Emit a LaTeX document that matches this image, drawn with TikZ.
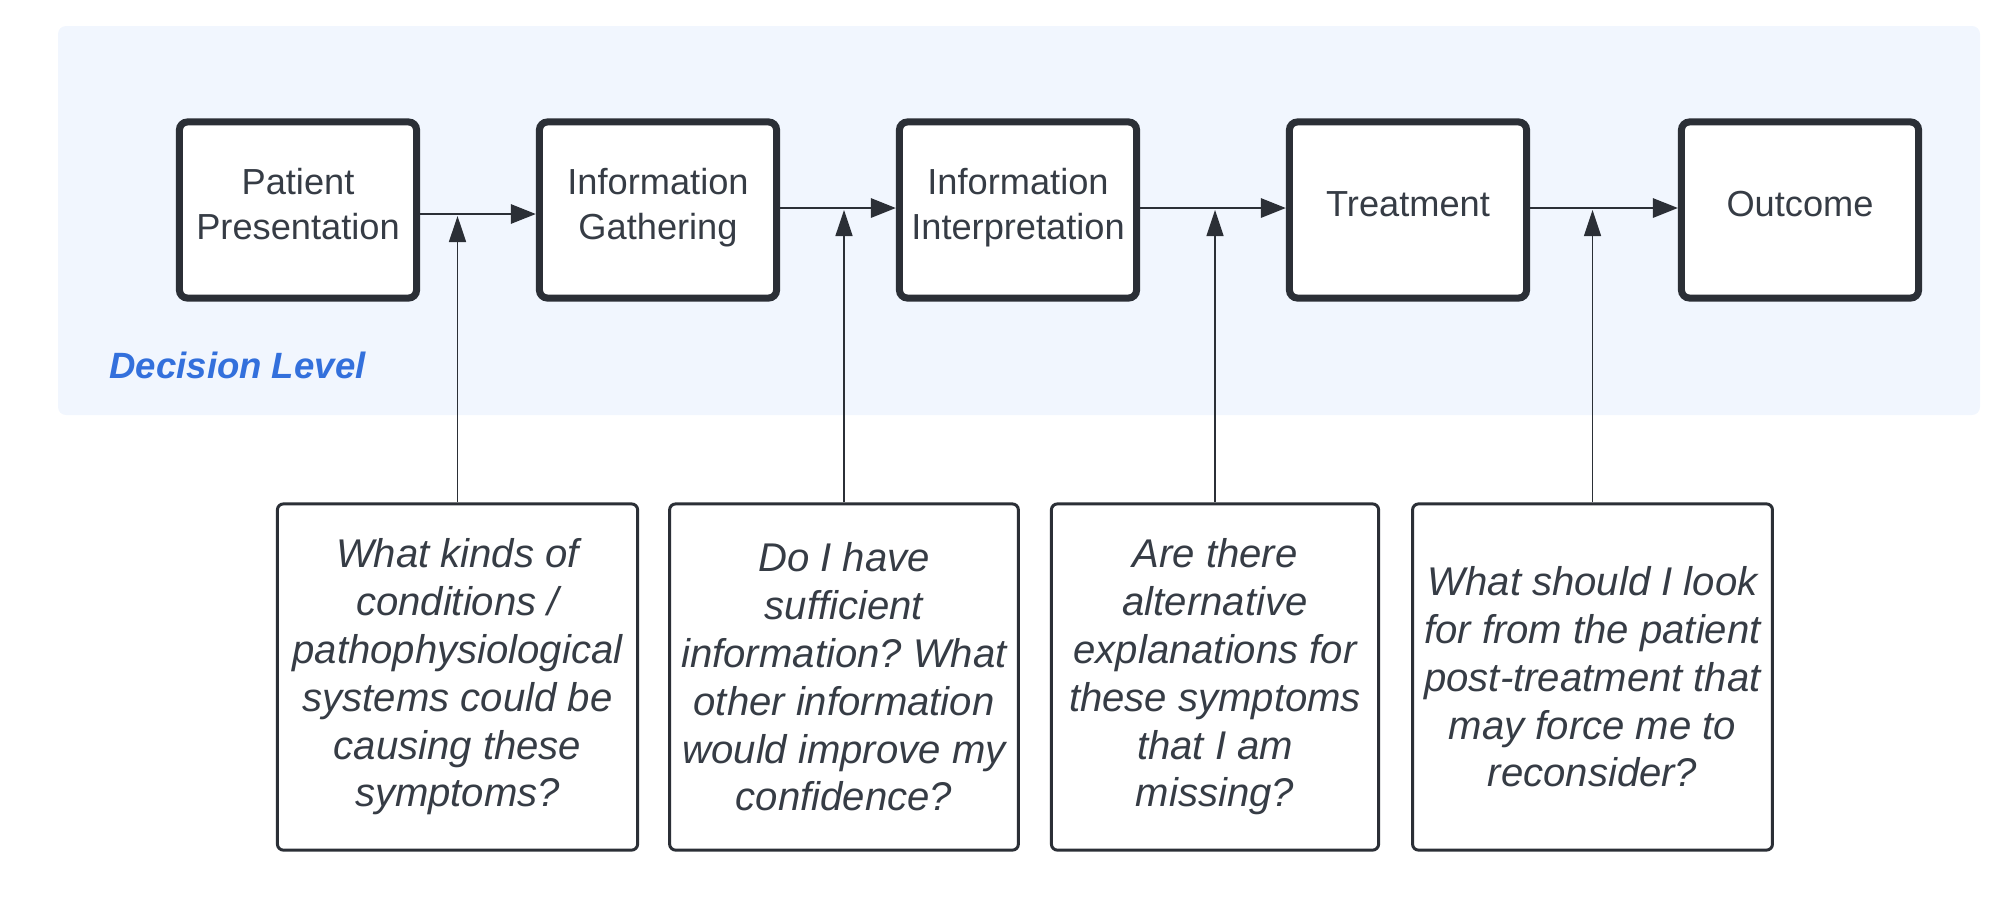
\documentclass[tikz,border=0pt]{standalone}
\usepackage{fontspec}
\setmainfont{Liberation Sans}
\usetikzlibrary{arrows.meta,
	positioning}
\definecolor{panelblue}{HTML}{F1F6FE}
\definecolor{levelblue}{HTML}{3370DC}
\definecolor{inkgray}{HTML}{363C45}
\definecolor{boxedge}{HTML}{2B2F36}
\frenchspacing

\begin{document}
\begin{tikzpicture}[x=0.01cm, y=-0.01cm,
	stage/.style={draw=boxedge, line width=2pt, fill=white, rounded corners=0.08cm,
		minimum width=2.37cm, minimum height=1.76cm, align=center, text=inkgray,
		text depth=0.12cm, font=\fontsize{10.3}{12.6}\selectfont},
	question/.style={draw=boxedge, line width=0.85pt, fill=white, rounded corners=0.06cm,
		minimum height=3.46cm, align=center, text=inkgray,
		font=\fontsize{11.4}{13.6}\selectfont\itshape},
	flow/.style={draw=boxedge, line width=0.85pt, -{Triangle[length=0.25cm, width=0.19cm]}},
	ask/.style={draw=boxedge, line width=0.4pt, -{Triangle[length=0.26cm, width=0.17cm]}, shorten >=0.02cm}]
	\useasboundingbox (0,0) rectangle (2016,906);
	\fill[panelblue, rounded corners=0.08cm] (58,26) rectangle (1980,415);
	\node[anchor=west, text=levelblue, font=\fontsize{10.4}{12}\selectfont\bfseries\itshape] (level) at (97,365) {Decision Level};
	% decision stages
	\node[stage] (pp) at (298,210) {Patient\\Presentation};
	\node[stage] (ig) at (658,210) {Information\\Gathering};
	\node[stage] (ii) at (1018,210) {Information\\Interpretation};
	\node[stage] (tr) at (1408,210) {Treatment};
	\node[stage] (oc) at (1800,210) {Outcome};
	\draw[flow] (pp.east) ++(0,4) coordinate (a1) -- (ig.west |- a1);
	\draw[flow] (ig.east) ++(0,-2) coordinate (a2) -- (ii.west |- a2);
	\draw[flow] (ii.east) ++(0,-2) coordinate (a3) -- (tr.west |- a3);
	\draw[flow] (tr.east) ++(0,-2) coordinate (a4) -- (oc.west |- a4);
	% questions
	\node[question, minimum width=3.60cm] (q1) at (457.5,677) {What kinds of\\conditions /\\pathophysiological\\systems could be\\causing these\\symptoms?};
	\node[question, minimum width=3.43cm] (q2) at (844,677) {Do I have\\sufficient\\information? What\\other information\\would improve my\\confidence?};
	\node[question, minimum width=3.27cm] (q3) at (1215,677) {Are there\\alternative\\explanations for\\these symptoms\\that I am\\missing?};
	\node[question, minimum width=3.58cm] (q4) at (1592.5,677) {What should I look\\for from the patient\\post-treatment that\\may force me to\\reconsider?};
	\draw[ask] (q1.north) -- (q1.north |- a1);
	\draw[ask] (q2.north) -- (q2.north |- a2);
	\draw[ask] (q3.north) -- (q3.north |- a3);
	\draw[ask] (q4.north) -- (q4.north |- a4);
\end{tikzpicture}
\end{document}
